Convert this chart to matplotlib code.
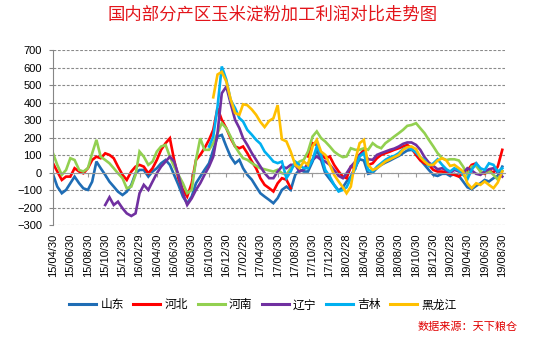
import matplotlib
matplotlib.use("Agg")
import matplotlib.pyplot as plt
import matplotlib.dates as mdates
import numpy as np
import pandas as pd

nan = np.nan

# semi-monthly observations, 2015-04-30 .. 2019-08-31
try:
    dates = pd.date_range("2015-04-30", periods=105, freq="SME")
except ValueError:
    dates = pd.date_range("2015-04-30", periods=105, freq="SM")

shandong = [
    -10, -80, -118, -99, -61, -23, -61, -90, -99, -52, 63, 25, -13, -52, -80, -109, -128, -109, -71, -4, 15,
    15, -23, 6, 25, 53, 72, 44, -13, -70, -137, -175, -137, -61, -23, 15, 53, 130, 206, 215, 149, 91, 53,
    73, 25, -13, -41, -80, -118, -137, -156, -175, -146, -99, -80, -99, -13, 16, 6, 6, 63, 130, 73,
    -4, -38, -70, -103, -84, -51, -23, 34, 76, 69, -7, 0, 25, 44, 57, 69, 82, 95, 111, 126, 130, 114,
    72, 44, 15, -13, -19, -7, -7, -19, -7, -19, -51, -84, -95, -76, -61, -42, -51, -32, -19, 34,
]
hebei = [
    53, 6, -42, -23, -23, 25, 6, -4, 25, 72, 91, 82, 110, 101, 82, 34, -13, -42, 6, 34, 44,
    34, -4, 25, 72, 130, 168, 196, 72, -32, -99, -137, -61, 72, 101, 139, 187, 244, 368, 301, 253, 196, 149,
    139, 149, 111, 63, 25, -32, -70, -89, -108, -61, -32, -41, -89, nan, nan, nan, 92, 168, 158, 101,
    82, 92, 44, 6, -23, -32, 34, 25, 101, 130, 44, 53, 82, 101, 111, 120, 130, 139, 149, 158, 140, 100,
    70, 53, 44, 15, 6, 6, 0, -7, -13, -23, 0, 12, 44, 53, 6, -7, 12, 0, 34, 130,
]
henan = [
    110, 44, -13, 15, 82, 72, 15, 6, 25, 110, 187, 91, 72, 53, 25, -4, -32, -90, -80, -13, 120,
    91, 44, 63, 120, 149, 158, 91, 34, -13, -61, -118, -99, 72, 196, 130, 130, 168, 225, 282, 253, 206, 149,
    111, 82, 73, 54, 39, 25, 19, 12, 6, 16, -3, -13, 25, 44, 63, 73, 120, 206, 235, 197,
    177, 149, 120, 101, 88, 92, 139, 130, 130, 139, 130, 168, 149, 139, 168, 187, 206, 225, 244, 267, 272, 282,
    253, 225, 187, 149, 111, 82, 72, 76, 76, 69, 34, -13, 34, 38, 6, -3, 12, -13, -40, 10,
]
liaoning = [
    nan, nan, nan, nan, nan, nan, nan, nan, nan, nan, nan, nan,
    -185, -141, -185, -166, -204, -233, -248, -233, -118,
    -70, -99, -51, -4, 34, 63, 91, 63, -13, -118, -185, -147, -99, -61, -13, 34, 91, 225, 453, 491, 396, 301,
    254, 197, 158, 111, 73, 35, -3, -32, -32, 6, 35, 25, 44, 44, 6, 16, 54, 73, 92, 73,
    63, 44, 15, -19, -32, -4, 34, 63, 101, 114, 76, 73, 101, 111, 120, 130, 137, 149, 164, 172, 172, 158,
    130, 88, 57, 38, 19, 25, 12, -3, 16, 6, -3, 25, 12, -7, -13, 6, 19, 25, 0, -23,
]
jilin = [nan] * 36 + [
    149, 206, 377, 606, 530, 415, 368,
    311, 292, 244, 216, 187, 165, 120, 92, 63, 54, 63, -32, 6, 63, 44, 25, 25, 73, 149, 101,
    15, -23, -70, -108, -99, -84, -32, 25, 92, 111, 15, 6, 34, 53, 73, 88, 95, 111, 134, 145, 134, 114,
    88, 72, 38, 53, 76, 44, 19, 6, 25, 12, -13, -38, 15, 53, 25, 15, 53, 44, 6, 25,
]
heilongjiang = [nan] * 37 + [
    430, 560, 575, 520, 420, 340,
    330, 390, 385, 360, 330, 290, 260, 295, 310, 385, 190, 178, 120, 44, 25, 63, 44, 149, 187, 120,
    101, 44, -13, -51, -84, -118, -80, 73, 168, 187, 44, 15, 25, 44, 63, 76, 88, 101, 130, 145, 149, 134,
    88, 63, 44, 44, 69, 82, 69, 38, 44, 25, 6, -61, -89, -61, -70, -51, -70, -89, -57, 6,
]

names = ["山东", "河北", "河南", "辽宁", "吉林", "黑龙江"]
series = [shandong, hebei, henan, liaoning, jilin, heilongjiang]
colors = ["#1f6db5", "#ff0000", "#92d050", "#7030a0", "#00b0f0", "#ffc000"]

tick_labels = ["15/04/30", "15/06/30", "15/08/30", "15/10/30", "15/12/30", "16/02/29",
               "16/04/30", "16/06/30", "16/08/30", "16/10/30", "16/12/30", "17/02/28",
               "17/04/30", "17/06/30", "17/08/30", "17/10/30", "17/12/30", "18/02/28",
               "18/04/30", "18/06/30", "18/08/30", "18/10/30", "18/12/30", "19/02/28",
               "19/04/30", "19/06/30", "19/08/30"]

cjk = ["Noto Sans CJK SC", "DejaVu Sans"]
num_font = ["Liberation Sans", "DejaVu Sans"]

x = mdates.date2num(dates.to_pydatetime())
tick_pos = mdates.date2num(pd.to_datetime(tick_labels, format="%y/%m/%d").to_pydatetime())

fig = plt.figure(figsize=(5.5, 3.38), dpi=100)
ax = fig.add_axes([0.0964, 0.334, 0.822, 0.518])

for name, vals, c in zip(names, series, colors):
    ax.plot(x, vals, color=c, lw=1.9, label=name, solid_joinstyle="miter")

ax.set_ylim(-300, 700)
ax.set_yticks(range(-300, 701, 100))
ax.set_xlim(mdates.date2num(pd.Timestamp("2015-04-30")), mdates.date2num(pd.Timestamp("2019-09-10")))
ax.yaxis.grid(True, linestyle=(0, (2.5, 1.5)), color="#8a8a8a", lw=0.8)
ax.set_axisbelow(True)

for s in ["top", "right"]:
    ax.spines[s].set_visible(False)
ax.spines["left"].set_color("#868686")
ax.spines["left"].set_linewidth(0.8)
ax.spines["bottom"].set_position(("data", 0))
ax.spines["bottom"].set_color("#9a9a9a")
ax.spines["bottom"].set_linewidth(0.8)

ax.set_xticks(tick_pos)
ax.tick_params(axis="x", direction="out", length=3, color="#9a9a9a", labelbottom=False)
ax.tick_params(axis="y", direction="out", length=3, color="#868686", pad=5, labelsize=8)
for t in ax.get_yticklabels():
    t.set_family(num_font)
ax.yaxis.set_major_formatter(plt.FuncFormatter(lambda v, p: f"{int(v)}".replace("-", "\u2212")))

sec = ax.secondary_xaxis(0)
sec.set_xticks(tick_pos, labels=tick_labels)
sec.spines["bottom"].set_visible(False)
sec.tick_params(axis="x", length=0, pad=6, labelsize=8, rotation=90)
for t in sec.get_xticklabels():
    t.set_family(num_font)

fig.text(0.495, 0.958, "国内部分产区玉米淀粉加工利润对比走势图", ha="center", va="center",
         fontsize=12.5, color="#e3151b", family=cjk)

leg = fig.legend(loc="center", bbox_to_anchor=(0.478, 0.098), ncol=6, frameon=False,
                 prop={"family": cjk, "size": 8.5}, handlelength=2.3, handletextpad=0.35,
                 columnspacing=0.8)
for h in leg.legend_handles:
    h.set_linewidth(2.2)

fig.text(0.942, 0.032, "数据来源：天下粮仓", ha="right", va="center", fontsize=8,
         color="#e00000", family=cjk, style="italic")

fig.savefig("out.png", dpi=100)
